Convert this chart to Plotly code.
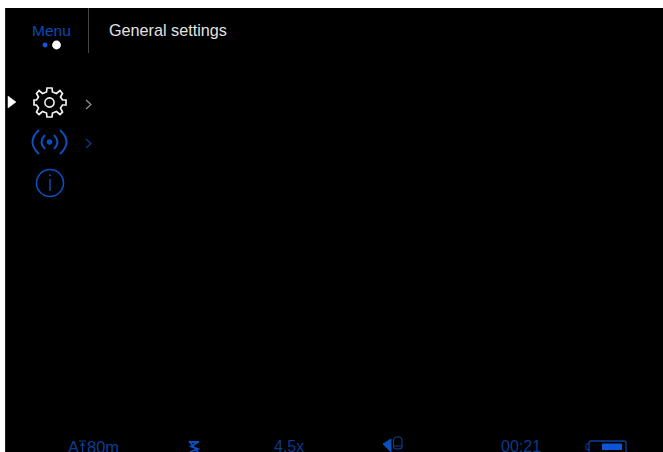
import plotly.graph_objects as go

BLUE = "#0a4fc0"
DIM = "#0a3f96"
WHITE = "#f0f0f0"
FONT = "Liberation Sans, Arial, sans-serif"

header_title = "General settings"
menu_label = "Menu"
status_labels = ["80m", "4.5x", "00:21"]
status_x = [103, 288.5, 520.5]
status_colors = [DIM, "#0a3a8a", "#0a3a8a"]
status_sizes = [16.5, 16, 16]

# 8-tooth gear outline: (x, y) in pixels of the screen
gear_x = [46.5,47,52,52.5,56.5,60,62.5,60.5,62.5,66,66,62.5,60.5,62.5,60,56.5,52.5,52,47,46.5,42.5,39,36.5,38.5,36.5,34,34,36.5,38.5,36.5,39,42.5,46.5]
gear_y = [92,88,88,92,93.5,90.5,93.5,97,100,100,105,105,108,112,114.5,111.5,113,117,117,113,111.5,114.5,112,108,105,105,100,100,97,93.5,90.5,93.5,92]

fig = go.Figure()


def path(d, color, width=1.4, fill=None):
    fig.add_shape(type="path", path=d, line=dict(color=color, width=width),
                  fillcolor=fill or "rgba(0,0,0,0)", xref="x", yref="y", layer="above")


def circle(cx, cy, r, color, width=1.5, fill=None):
    fig.add_shape(type="circle", x0=cx-r, x1=cx+r, y0=cy-r, y1=cy+r,
                  line=dict(color=color, width=width),
                  fillcolor=fill or "rgba(0,0,0,0)", xref="x", yref="y", layer="above")


def rect(x0, y0, x1, y1, fill, line=None, width=0):
    fig.add_shape(type="rect", x0=x0, x1=x1, y0=y0, y1=y1, fillcolor=fill,
                  line=dict(color=line or fill, width=width), xref="x", yref="y", layer="above")


def text(x, y, s, color, size, anchor="center"):
    fig.add_annotation(x=x, y=y, text=s, showarrow=False, xanchor=anchor, yanchor="middle",
                       font=dict(family=FONT, size=size, color=color), xref="x", yref="y")


# screen
rect(5, 8, 663, 452, "#000000")
rect(5, 8, 6, 452, "#06204d")

# header
text(51, 30, menu_label, "#0b4ab4", 15.5)
text(106.5, 30, header_title, "#e2e2e2", 16.2, "left")
rect(88, 8, 89, 53, "#444444")
circle(45, 45, 2.4, "#0a5ae0", 0, "#0a5ae0")
circle(56.5, 45, 4.4, "#ffffff", 0, "#ffffff")

# selection marker
path("M8,96 L16,102 L8,108 Z", "#ffffff", 0.5, "#ffffff")

# gear
gear_d = "M" + " L".join(f"{x},{y}" for x, y in zip(gear_x, gear_y)) + " Z"
path(gear_d, WHITE, 1.7)
circle(49.5, 102.5, 4.6, WHITE, 1.6)

# chevrons
path("M86,100 L91,104.5 L86,109", "#9a9a9a", 1.1)
path("M86,139 L91,143.5 L86,148", DIM, 1.1)

# radio icon
path("M39,130 Q26,142 39,154", BLUE, 2)
path("M45,135 Q38,142 45,149", BLUE, 2)
path("M54,135 Q61,142 54,149", BLUE, 2)
path("M60,130 Q73,142 60,154", BLUE, 2)
circle(49.5, 142, 2.8, BLUE, 0, BLUE)

# info icon
circle(50, 183, 13.5, BLUE, 1.6)
rect(49.3, 179, 50.7, 191, BLUE)
rect(49.2, 174.5, 50.8, 176.3, BLUE)

# status bar
text(73, 446.5, "A", DIM, 16.5)
path("M79,441 L86,441", DIM, 1)
path("M82.5,452 L82.5,443 M80.5,446 L82.5,443 L84.5,446", DIM, 1.2)
for x, s, c, z in zip(status_x, status_labels, status_colors, status_sizes):
    text(x, 446.5, s, c, z)

# stabiliser glyph
path("M189,442 L199,442 M198,442 L191,446.5 L198,449 L190,452 M189,441 L198,452", BLUE, 1.8)

# speaker / device glyph
path("M383,444 L391,439 L391,452 Z", BLUE, 1, BLUE)
path("M393.5,441 Q393.5,437 397,437 L399,437 Q402,437 402,441 L402,446 Q402,449 399,449 L397,449 Q393.5,449 393.5,446 Z M393.5,446 L402,446", DIM, 1.1)

# battery
path("M589,452 L589,443 Q589,441 591,441 L624,441 Q626,441 626,443 L626,452", DIM, 1.3)
path("M589,443.5 L586,444.5 L586,449 L589,450", DIM, 1)
rect(602, 443.5, 622, 450, "#0a55d8")

fig.update_layout(
    width=663, height=452, margin=dict(l=0, r=0, t=0, b=0),
    paper_bgcolor="#ffffff", plot_bgcolor="#ffffff", showlegend=False,
    xaxis=dict(range=[0, 663], visible=False, fixedrange=True),
    yaxis=dict(range=[452, 0], visible=False, fixedrange=True),
)

fig.write_html("out.html", config={"displayModeBar": False},
               post_script="document.body.style.margin='0';document.body.style.overflow='hidden';")
